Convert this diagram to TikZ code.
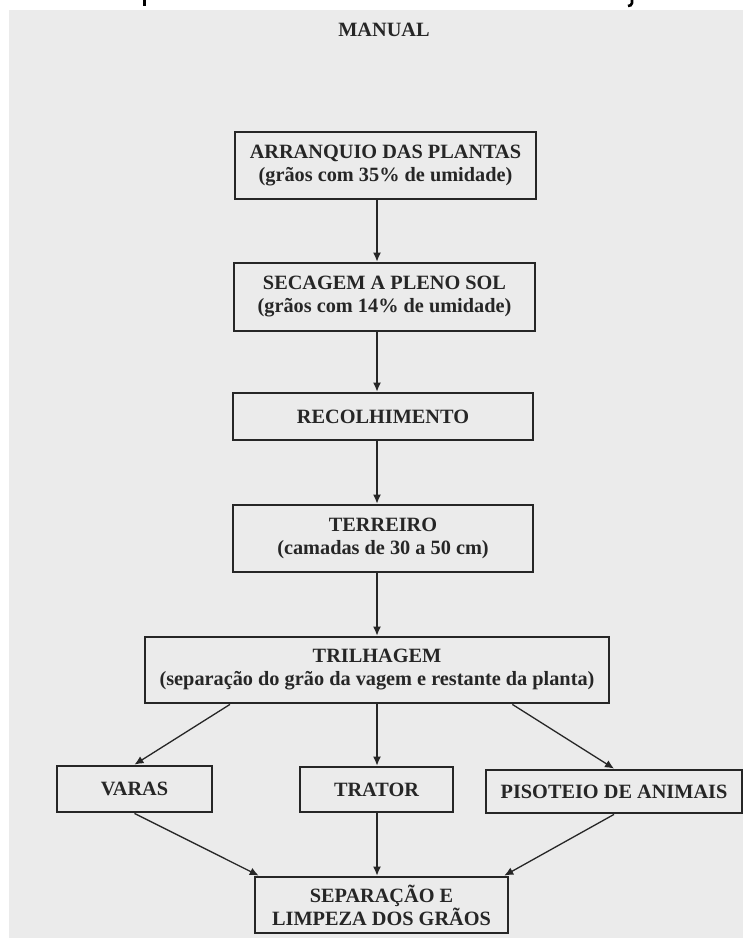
\documentclass[tikz,border=0pt]{standalone}
\usepackage{fontspec}
\setmainfont{Liberation Serif}
\usetikzlibrary{arrows.meta,calc}
\definecolor{paper}{HTML}{EBEBEB}
\definecolor{ink}{HTML}{262626}
\tikzset{
  etapa/.style={draw=ink, line width=2.8pt, align=center, inner sep=0pt,
    font=\bfseries\fontsize{20.3}{23}\selectfont, text=ink},
  seta/.style={-{Latex[length=9pt,width=8pt]}, draw=ink, line width=1.3pt},
}
\begin{document}
\begin{tikzpicture}[x=1pt,y=-1pt]
        \useasboundingbox (0,0) rectangle (743,938);
        \fill[white] (0,0) rectangle (743,938);
        \fill[paper] (8.5,10) rectangle (743,938);
        % remains of the cut-off line above
        \fill[black] (143.3,0) rectangle (146.3,5.5);
        \draw[black, line width=2.6pt] (632,0) -- (632,3) to[out=-90,in=0] (628,6);
        % title and boxes
        \node[text=ink, font=\bfseries\fontsize{20.3}{23}\selectfont] (titulo) at (384,30) {MANUAL};
        \node[etapa, minimum width=301pt, minimum height=67pt] (arranq) at (385.5,165.5)
            {ARRANQUIO DAS PLANTAS\\(grãos com 35\% de umidade)};
        \node[etapa, minimum width=301pt, minimum height=68pt] (secagem) at (384.5,297)
            {SECAGEM A PLENO SOL\\(grãos com 14\% de umidade)};
        \node[etapa, minimum width=300pt, minimum height=47pt] (recolh) at (383,416.5)
            {RECOLHIMENTO};
        \node[etapa, minimum width=300pt, minimum height=67pt] (terreiro) at (383,538.5)
            {TERREIRO\\(camadas de 30 a 50 cm)};
        \node[etapa, minimum width=464pt, minimum height=66pt] (trilha) at (377,670)
            {TRILHAGEM\\(separação do grão da vagem e restante da planta)};
        \node[etapa, minimum width=155pt, minimum height=46pt] (varas) at (134.5,789) {VARAS};
        \node[etapa, minimum width=153pt, minimum height=45pt] (trator) at (376.5,789.5) {TRATOR};
        \node[etapa, minimum width=256pt, minimum height=43pt] (pisot) at (614,791.5)
            {PISOTEIO DE ANIMAIS};
        \node[etapa, minimum width=253pt, minimum height=56pt] (limpeza) at (381.5,905)
            {SEPARAÇÃO E\\LIMPEZA DOS GRÃOS};
        % arrows
        \draw[seta] (arranq.south -| trilha) -- (secagem.north -| trilha);
        \draw[seta] (secagem.south -| trilha) -- (recolh.north -| trilha);
        \draw[seta] (recolh.south -| trilha) -- (terreiro.north -| trilha);
        \draw[seta] (terreiro.south -| trilha) -- (trilha.north);
        \draw[seta] ($(trilha.south west)!0.185!(trilha.south east)$) -- (varas.north);
        \draw[seta] (trilha.south) -- (trator.north -| trilha);
        \draw[seta] ($(trilha.south west)!0.79!(trilha.south east)$) -- (pisot.north);
        \draw[seta] (varas.south) -- ($(limpeza.north west)!0.02!(limpeza.north east)$);
        \draw[seta] (trator.south -| trilha) -- (limpeza.north -| trilha);
        \draw[seta] (pisot.south) -- ($(limpeza.north west)!0.98!(limpeza.north east)$);
\end{tikzpicture}
\end{document}
